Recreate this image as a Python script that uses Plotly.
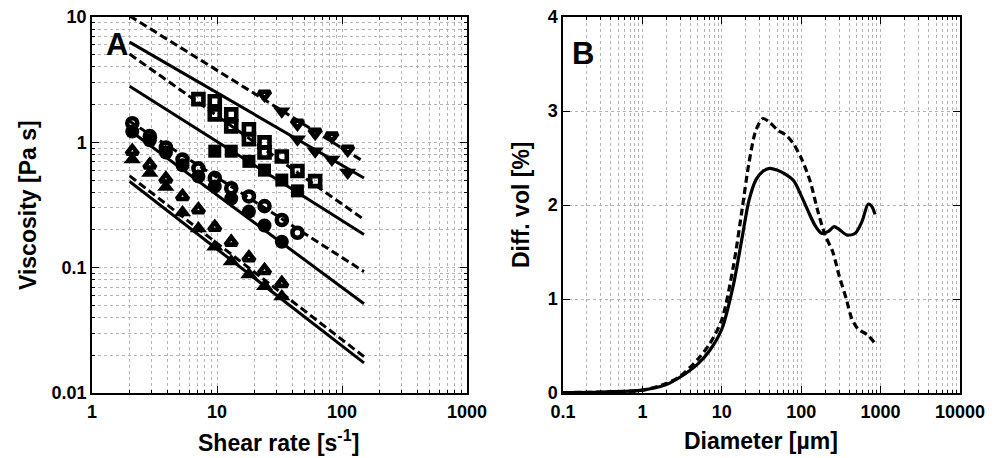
import plotly.graph_objects as go

# ---------------- Panel A data (shear rate [1/s], viscosity [Pa s]) ----------------
tri_up_open_x = [2.1, 2.9, 3.9, 5.3, 7.1, 9.6, 13, 18, 24, 33]
tri_up_open_y = [0.85, 0.66, 0.51, 0.37, 0.29, 0.21, 0.16, 0.12, 0.095, 0.075]
tri_up_fill_x = [2.1, 2.9, 3.9, 5.3, 7.1, 9.6, 13, 18, 24, 33]
tri_up_fill_y = [0.73, 0.57, 0.44, 0.275, 0.205, 0.147, 0.112, 0.088, 0.071, 0.059]

circ_open_x = [2.1, 2.9, 3.9, 5.3, 7.1, 9.6, 13, 18, 24, 33, 44]
circ_open_y = [1.42, 1.12, 0.91, 0.73, 0.62, 0.52, 0.43, 0.37, 0.31, 0.24, 0.19]
circ_fill_x = [2.1, 2.9, 3.9, 5.3, 7.1, 9.6, 13, 18, 24, 33]
circ_fill_y = [1.22, 1.04, 0.83, 0.655, 0.535, 0.445, 0.356, 0.28, 0.217, 0.161]

sq_open1_x = [7.1, 9.6, 13, 18, 24, 33, 44, 61]
sq_open1_y = [2.21, 2.13, 1.67, 1.27, 1.0, 0.77, 0.59, 0.49]
sq_open2_x = [9.6, 13, 18, 24]
sq_open2_y = [1.67, 1.34, 1.06, 0.83]
sq_fill_x = [9.6, 13, 18, 24, 33, 44]
sq_fill_y = [0.85, 0.85, 0.705, 0.60, 0.50, 0.41]

tri_dn_open_x = [24, 44, 61, 83, 111]
tri_dn_open_y = [2.42, 1.42, 1.2, 1.12, 0.88]
tri_dn_fill_x = [33, 44, 61, 83, 111]
tri_dn_fill_y = [1.77, 1.06, 0.85, 0.73, 0.575]

# power-law fit lines (from shear rate 2 to 150)
fit_x = [2, 150]
fit_dashed = [[10.2, 0.70], [5.06, 0.242], [1.47, 0.093], [0.54, 0.0195]]
fit_solid = [[6.3, 0.52], [2.8, 0.184], [1.25, 0.0515], [0.487, 0.0174]]

# axis ticks
a_x_ticks = [1, 10, 100, 1000]
a_x_text = ["1", "10", "100", "1000"]
a_y_ticks = [0.01, 0.1, 1, 10]
a_y_text = ["0.01", "0.1", "1", "10"]
b_x_ticks = [0.1, 1, 10, 100, 1000, 10000]
b_x_text = ["0.1", "1", "10", "100", "1000", "10000"]

# ---------------- Panel B data (diameter [um], diff. vol [%]) ----------------
diam_solid = [0.1, 0.3, 1, 2, 3, 5, 7, 10, 14, 18, 22, 27, 33, 40, 50, 60, 80, 100,
              120, 150, 180, 220, 260, 300, 380, 480, 580, 700, 780, 850]
vol_solid = [0.005, 0.01, 0.03, 0.09, 0.17, 0.31, 0.45, 0.68, 1.15, 1.65, 2.05, 2.27,
             2.36, 2.39, 2.37, 2.34, 2.26, 2.1, 1.95, 1.78, 1.70, 1.72, 1.77, 1.74,
             1.68, 1.70, 1.82, 2.01, 1.98, 1.90]
diam_dashed = [0.1, 0.3, 1, 2, 3, 5, 7, 10, 14, 18, 22, 27, 33, 40, 50, 65, 80, 100,
               130, 160, 200, 250, 300, 370, 430, 520, 680, 850]
vol_dashed = [0.005, 0.01, 0.03, 0.1, 0.18, 0.36, 0.52, 0.78, 1.35, 1.95, 2.45, 2.8,
              2.92, 2.88, 2.80, 2.74, 2.65, 2.5, 2.25, 1.95, 1.68, 1.50, 1.25, 1.0,
              0.8, 0.68, 0.62, 0.53]

W, H = 996, 458
FONT = "Liberation Sans"
BLACK = "black"
GRID = "#b4b4b4"

fig = go.Figure()

# fit lines panel A
for ys in fit_dashed:
    fig.add_trace(go.Scatter(x=fit_x, y=ys, mode="lines", xaxis="x", yaxis="y",
                             line=dict(color=BLACK, width=3, dash="8px,4px"),
                             showlegend=False, hoverinfo="skip"))
for ys in fit_solid:
    fig.add_trace(go.Scatter(x=fit_x, y=ys, mode="lines", xaxis="x", yaxis="y",
                             line=dict(color=BLACK, width=3),
                             showlegend=False, hoverinfo="skip"))

FILLED_SIZE = {"triangle-up": 15, "triangle-down": 15, "circle": 14, "square": 13}

def add_markers(x, y, symbol):
    open_ = symbol.endswith("-open")
    size = 10 if open_ else FILLED_SIZE[symbol]
    fig.add_trace(go.Scatter(
        x=x, y=y, mode="markers", xaxis="x", yaxis="y", showlegend=False,
        marker=dict(symbol=symbol, size=size, color=BLACK,
                    line=dict(width=4.6 if open_ else 0, color=BLACK))))

add_markers(tri_up_fill_x, tri_up_fill_y, "triangle-up")
add_markers(tri_up_open_x, tri_up_open_y, "triangle-up-open")
add_markers(circ_fill_x, circ_fill_y, "circle")
add_markers(circ_open_x, circ_open_y, "circle-open")
add_markers(sq_fill_x, sq_fill_y, "square")
add_markers(sq_open1_x, sq_open1_y, "square-open")
add_markers(sq_open2_x, sq_open2_y, "square-open")
add_markers(tri_dn_fill_x, tri_dn_fill_y, "triangle-down")
add_markers(tri_dn_open_x, tri_dn_open_y, "triangle-down-open")

# panel B curves
fig.add_trace(go.Scatter(x=diam_solid, y=vol_solid, mode="lines", xaxis="x2", yaxis="y2",
                         line=dict(color=BLACK, width=3.2, shape="spline", smoothing=0.8),
                         showlegend=False))
fig.add_trace(go.Scatter(x=diam_dashed, y=vol_dashed, mode="lines", xaxis="x2", yaxis="y2",
                         line=dict(color=BLACK, width=3.2, dash="7px,4px", shape="spline",
                                   smoothing=0.8),
                         showlegend=False))

tickfont = dict(family=FONT, size=18, color=BLACK, weight="bold")

def log_axis(domain, rng, anchor, vals, text, standoff):
    return dict(type="log", domain=domain, range=rng, anchor=anchor, automargin=False,
                tickmode="array", tickvals=vals, ticktext=text, ticklabelstandoff=standoff,
                showline=True, linecolor=BLACK, linewidth=1.5, mirror="allticks",
                ticks="inside", ticklen=7, tickwidth=1.2, tickcolor=BLACK,
                tickfont=tickfont,
                showgrid=True, gridcolor=GRID, griddash="dot", gridwidth=1,
                minor=dict(ticks="inside", ticklen=3.5, tickwidth=1, tickcolor=BLACK,
                           showgrid=True, gridcolor=GRID, griddash="dot", gridwidth=1,
                           dtick="D1"),
                zeroline=False)

ydom = [(H - 393) / H, (H - 17) / H]
fig.update_layout(
    template="none",
    width=W, height=H, margin=dict(l=0, r=0, t=0, b=0, autoexpand=False),
    paper_bgcolor="white", plot_bgcolor="white",
    xaxis=log_axis([92 / W, 467 / W], [0, 3], "y", a_x_ticks, a_x_text, 2),
    yaxis=log_axis(ydom, [-2, 1], "x", a_y_ticks, a_y_text, 0),
    xaxis2=log_axis([563 / W, 960 / W], [-1, 4], "y2", b_x_ticks, b_x_text, 2),
    yaxis2=dict(domain=ydom, range=[0, 4], anchor="x2", automargin=False,
                tickmode="linear", tick0=0, dtick=1,
                showline=True, linecolor=BLACK, linewidth=1.5, mirror="allticks",
                ticks="inside", ticklen=7, tickwidth=1.2, tickcolor=BLACK,
                tickfont=tickfont, showgrid=True, gridcolor=GRID, griddash="dot",
                gridwidth=1, zeroline=False),
    showlegend=False,
)

titlefont = dict(family=FONT, size=23, color=BLACK, weight="bold")
ann = [
    dict(text="A", x=117 / W, y=1 - 44 / H, font=dict(family=FONT, size=31, color=BLACK, weight="bold")),
    dict(text="B", x=583 / W, y=1 - 54 / H, font=dict(family=FONT, size=31, color=BLACK, weight="bold")),
    dict(text="Viscosity [Pa s]", x=28 / W, y=1 - 205 / H, textangle=-90, font=titlefont),
    dict(text="Shear rate [s<sup>-1</sup>]", x=278 / W, y=1 - 441 / H, font=titlefont),
    dict(text="Diff. vol [%]", x=521 / W, y=1 - 205 / H, textangle=-90, font=titlefont),
    dict(text="Diameter [µm]", x=761 / W, y=1 - 441 / H, font=titlefont),
]
for a in ann:
    fig.add_annotation(xref="paper", yref="paper", xanchor="center", yanchor="middle",
                       showarrow=False, **a)

fig.write_html("out.html")
